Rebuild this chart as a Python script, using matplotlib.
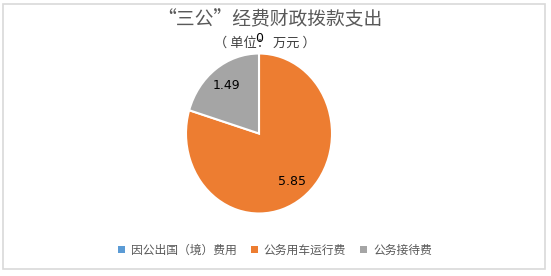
import numpy as np
import matplotlib.pyplot as plt
from matplotlib.patches import Rectangle, Patch

plt.rcParams['font.family'] = ['Noto Sans CJK SC', 'DejaVu Sans']

# data
categories = ['因公出国（境）费用', '公务用车运行费', '公务接待费']
values = [0, 5.85, 1.49]
value_labels = ['0', '5.85', '1.49']
colors = ['#5B9BD5', '#ED7D31', '#A5A5A5']

W, H = 551, 276
fig = plt.figure(figsize=(W / 100, H / 100), dpi=100)

# outer frame
fig.patches.append(Rectangle((3 / W, 1 - 269 / H), 542 / W, 265 / H,
                             transform=fig.transFigure, fill=False,
                             edgecolor='#D9D9D9', linewidth=1.2))

# pie axes (reference pie is slightly taller than wide)
cx, cy, rx, ry = 259, 133.5, 73, 80
ax = fig.add_axes([(cx - rx) / W, 1 - (cy + ry) / H, 2 * rx / W, 2 * ry / H])
wedges, _ = ax.pie(values, colors=colors, startangle=90, counterclock=False,
                   radius=1, wedgeprops=dict(edgecolor='white', linewidth=1.5))
ax.set_xlim(-1, 1)
ax.set_ylim(-1, 1)
ax.set_aspect('auto')
ax.axis('off')

# value labels
for w, v, lab in zip(wedges, values, value_labels):
    ang = np.deg2rad((w.theta1 + w.theta2) / 2)
    d = 1.19 if v == 0 else 0.75
    ax.text(d * np.cos(ang), d * np.sin(ang), lab, ha='center', va='center',
            fontsize=9, color='black', family=['DejaVu Sans'], clip_on=False)

# titles
fig.text(270 / W, 1 - 20 / H, '“三公”经费财政拨款支出', ha='center', va='center',
         fontsize=13.5, color='#595959')
fig.text(265 / W, 1 - 43 / H, '（ 单位： 万元 ）', ha='center', va='center',
         fontsize=9.5, color='#404040')

# legend
handles = [Patch(facecolor=c, edgecolor='none') for c in colors]
fig.legend(handles, categories, loc='center', bbox_to_anchor=(275 / W, 1 - 250 / H),
           ncol=3, frameon=False, fontsize=8.5, handlelength=0.6, handleheight=0.6,
           handletextpad=0.5, columnspacing=1.2, labelcolor='#595959')

fig.savefig('out.png', dpi=100)
